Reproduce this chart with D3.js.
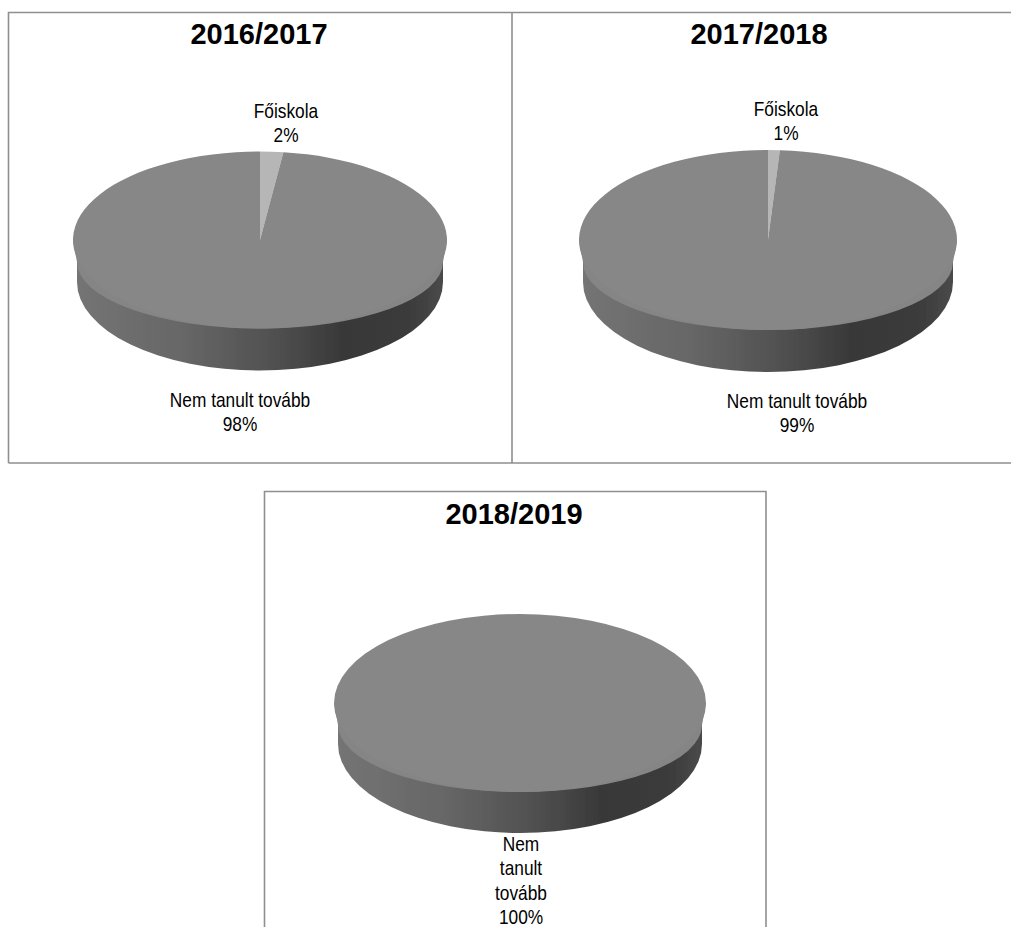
<!DOCTYPE html>
<html>
<head>
<meta charset="utf-8">
<script src="https://cdn.jsdelivr.net/npm/d3@7"></script>
<style>
	html, body { margin: 0; padding: 0; background: #fff; overflow: hidden; }
	text { font-family: "Liberation Sans", Arial, sans-serif; fill: #000; text-anchor: middle; }
	.title { font-size: 29px; font-weight: bold; }
	.label { font-size: 20px; }
</style>
</head>
<body>
<main></main>
<script>
const years = ["2016/2017", "2017/2018", "2018/2019"];
const categories = ["Főiskola", "Nem tanult tovább"];
const foiskola = [2, 1, 0];
const nemTanult = [98, 99, 100];

// where each pie sits on the page, label lines are per panel because the third one wraps
const panels = [
	{ cx: 260, cy: 240, rx: 187, ry: 88.5, depth: 42, titleX: 259, titleY: 44,
		labels: [
			{ x: 286, y: 118, lines: ["Főiskola", "2%"] },
			{ x: 240, y: 407, lines: ["Nem tanult tovább", "98%"] },
		] },
	{ cx: 768, cy: 240, rx: 189, ry: 90, depth: 42, titleX: 759, titleY: 44,
		labels: [
			{ x: 786, y: 116, lines: ["Főiskola", "1%"] },
			{ x: 797, y: 408, lines: ["Nem tanult tovább", "99%"] },
		] },
	{ cx: 520, cy: 703, rx: 186, ry: 89, depth: 41, titleX: 514, titleY: 524,
		labels: [
			{ x: 521, y: 851, lines: ["Nem", "tanult", "tovább", "100%"] },
		] },
];

const sliceColors = d3.scaleOrdinal().domain(categories).range(["#b6b6b6", "#878787"]);

const svg = d3.select("main").append("svg")
	.attr("width", 1011)
	.attr("height", 927)
	.style("display", "block");

const defs = svg.append("defs");
const wallGradient = defs.append("linearGradient").attr("id", "wall");
wallGradient.selectAll("stop")
	.data([[0, "#747474"], [0.3, "#666666"], [0.55, "#4f4f4f"], [0.72, "#393939"], [0.9, "#3a3a3a"], [1, "#4a4a4a"]])
	.join("stop")
	.attr("offset", d => d[0])
	.attr("stop-color", d => d[1]);
defs.append("filter").attr("id", "soft")
	.append("feGaussianBlur")
	.attr("stdDeviation", 0.5);

// frames
const frames = [
	"M8.5,463 V12.5 H1011 M8.5,463 H1011",
	"M512,12.5 V463",
	"M264.5,927 V491.5 H766 V927",
];
svg.selectAll("path.frame")
	.data(frames)
	.join("path")
	.attr("class", "frame")
	.attr("d", d => d)
	.attr("fill", "none")
	.attr("stroke", "#8f8f8f")
	.attr("stroke-width", 1.6);

const pie = d3.pie().sort(null).value(d => d.value);

panels.forEach((p, i) => {
	const g = svg.append("g");

	g.append("text")
		.attr("class", "title")
		.attr("x", p.titleX)
		.attr("y", p.titleY)
		.text(years[i]);

	const disc = g.append("g").attr("filter", "url(#soft)");
	const inset = 4;

	// side wall of the disc, only the part under the top face shows
	disc.append("path")
		.attr("d", `M${p.cx - p.rx + inset},${p.cy}
			V${p.cy + p.depth}
			A${p.rx - inset},${p.ry} 0 0 0 ${p.cx + p.rx - inset},${p.cy + p.depth}
			V${p.cy} Z`)
		.attr("fill", "url(#wall)");

	// bevel between the top face and the wall
	const bevelDrop = 22;
	disc.append("path")
		.attr("d", `M${p.cx - p.rx},${p.cy}
			L${p.cx - p.rx + inset},${p.cy + bevelDrop}
			A${p.rx - inset},${p.ry - bevelDrop} 0 0 0 ${p.cx + p.rx - inset},${p.cy + bevelDrop}
			L${p.cx + p.rx},${p.cy} Z`)
		.attr("fill", "#858585");

	const slices = pie([
		{ name: categories[0], value: foiskola[i] },
		{ name: categories[1], value: nemTanult[i] },
	]);
	const arc = d3.arc().innerRadius(0).outerRadius(p.rx);

	disc.append("g")
		.attr("transform", `translate(${p.cx},${p.cy}) scale(1,${p.ry / p.rx})`)
		.selectAll("path")
		.data(slices)
		.join("path")
		.attr("d", arc)
		.attr("fill", d => sliceColors(d.data.name));

	// labels in the reference are a bit condensed
	p.labels.forEach(l => {
		g.append("text")
			.attr("class", "label")
			.attr("transform", `translate(${l.x},${l.y}) scale(0.865,1)`)
			.selectAll("tspan")
			.data(l.lines)
			.join("tspan")
			.attr("x", 0)
			.attr("y", (d, k) => k * 24.3)
			.text(d => d);
	});
});
</script>
</body>
</html>
